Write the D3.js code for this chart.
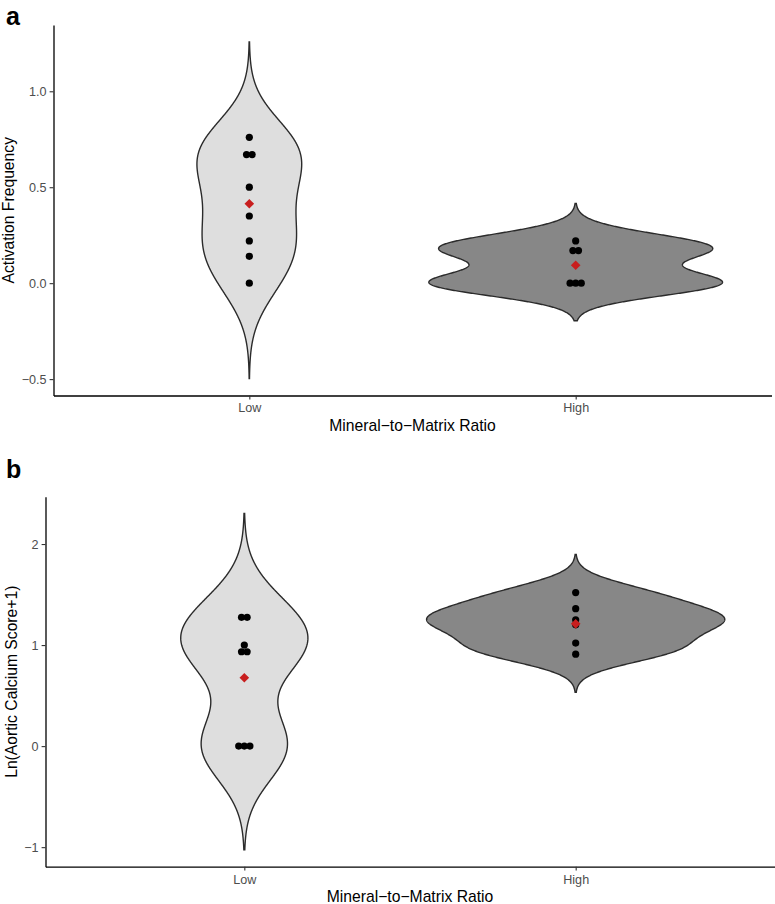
<!DOCTYPE html>
<html><head><meta charset="utf-8">
<script src="https://cdn.jsdelivr.net/npm/d3@7"></script>
<style>
body{margin:0;background:#fff}
svg{display:block;font-family:"Liberation Sans",Arial,sans-serif}
</style>
</head><body>
<svg id="c" width="775" height="904"></svg>
<script>
// ---- data ----
const groups = ["Low", "High"];
const activationLow  = [0.76, 0.67, 0.67, 0.50, 0.35, 0.22, 0.14, 0.00];
const activationHigh = [0.22, 0.17, 0.17, 0.00, 0.00, 0.00];
const calciumLow  = [1.275, 1.275, 1.00, 0.934, 0.934, 0.00, 0.00, 0.00];
const calciumHigh = [1.52, 1.36, 1.25, 1.20, 1.02, 0.91];
const activationTicks = [-0.5, 0, 0.5, 1.0];
const calciumTicks = [-1, 0, 1, 2];
const xTitle = "Mineral\u2212to\u2212Matrix Ratio";
const activationTitle = "Activation Frequency";
const calciumTitle = "Ln(Aortic Calcium Score+1)";
const fills = {Low: "#DEDEDE", High: "#878787"};

// ---- helpers ----
function nrd0(x) {
  const n = x.length;
  const s = [...x].sort(d3.ascending);
  const sd = d3.deviation(s);
  const iqr = (d3.quantileSorted(s, 0.75) - d3.quantileSorted(s, 0.25)) / 1.34;
  let lo = Math.min(sd, iqr);
  if (!(lo > 0)) lo = sd || Math.abs(s[0]) || 1;
  return 0.9 * lo * Math.pow(n, -0.2);
}
function kde(values) {
  const bw = nrd0(values);
  const lo = d3.min(values) - 3 * bw, hi = d3.max(values) + 3 * bw;
  const n = 512, out = [];
  for (let i = 0; i < n; i++) {
    const v = lo + (hi - lo) * i / (n - 1);
    const dens = d3.mean(values, x => Math.exp(-0.5 * ((v - x) / bw) ** 2) / (bw * Math.sqrt(2 * Math.PI)));
    out.push({v, dens});
  }
  return out;
}

const svg = d3.select("#c");

const panels = [
  {letter: "a", letterY: 25, top: 25, bottom: 395.5, left: 53.5, right: 771.5,
   data: {Low: activationLow, High: activationHigh}, ticks: activationTicks,
   fmt: d3.format(".1f"), yTitle: activationTitle, yTitleX: 13.5},
  {letter: "b", letterY: 478, top: 496.7, bottom: 866.7, left: 45.5, right: 774.5,
   data: {Low: calciumLow, High: calciumHigh}, ticks: calciumTicks,
   fmt: d3.format("d"), yTitle: calciumTitle, yTitleX: 16.5}
];

panels.forEach(p => {
  const g = svg.append("g");
  const dens = {};
  groups.forEach(k => dens[k] = kde(p.data[k]));
  const allV = groups.flatMap(k => dens[k].map(d => d.v));
  const [mn, mx] = d3.extent(allV);
  const pad = (mx - mn) * 0.05;
  const y = d3.scaleLinear().domain([mn - pad, mx + pad]).range([p.bottom, p.top]);
  const x = d3.scalePoint().domain(groups).range([p.left, p.right]).padding(0.6);
  const maxD = d3.max(groups, k => d3.max(dens[k], d => d.dens));
  const w = d3.scaleLinear().domain([0, maxD]).range([0, 0.45 * x.step()]);

  // violins
  groups.forEach(k => {
    const cx = x(k);
    const area = d3.area()
      .y(d => y(d.v))
      .x0(d => cx - w(d.dens))
      .x1(d => cx + w(d.dens));
    g.append("path").datum(dens[k]).attr("d", area)
      .attr("fill", fills[k]).attr("stroke", "#2B2B2B").attr("stroke-width", 1.4);
  });

  // dots (stacked centred when values coincide)
  groups.forEach(k => {
    const cx = x(k);
    const bins = d3.groups(p.data[k], v => v);
    bins.forEach(([v, arr]) => {
      arr.forEach((_, i) => {
        g.append("circle")
          .attr("cx", cx + (i - (arr.length - 1) / 2) * 5.6)
          .attr("cy", y(v)).attr("r", 3.6).attr("fill", "#000");
      });
    });
    const m = d3.mean(p.data[k]);
    g.append("path")
      .attr("d", d3.symbol(d3.symbolSquare, 46)())
      .attr("transform", `translate(${cx},${y(m)}) rotate(45)`)
      .attr("fill", "#C81E1E");
  });

  // axes
  const ya = g.append("g").attr("transform", `translate(${p.left},0)`)
    .call(d3.axisLeft(y).tickValues(p.ticks).tickFormat(p.fmt).tickSize(3.9).tickSizeOuter(0).tickPadding(3));
  const xa = g.append("g").attr("transform", `translate(0,${p.bottom})`)
    .call(d3.axisBottom(x).tickSize(3.9).tickSizeOuter(0).tickPadding(4));
  [ya, xa].forEach(a => {
    a.select(".domain").attr("stroke", "#000").attr("stroke-width", 1.3);
    a.selectAll(".tick line").attr("stroke", "#333333").attr("stroke-width", 1.1);
    a.selectAll(".tick text").attr("fill", "#4D4D4D")
      .style("font-size", "12.6px").style("font-family", '"Liberation Sans",Arial,sans-serif');
  });

  // titles
  g.append("text").attr("x", (p.left + p.right) / 2).attr("y", p.bottom + 35.3)
    .attr("text-anchor", "middle").style("font-size", "15.7px").attr("fill", "#000")
    .text(xTitle);
  g.append("text")
    .attr("transform", `translate(${p.yTitleX},${(p.top + p.bottom) / 2}) rotate(-90)`)
    .attr("text-anchor", "middle").style("font-size", "15.7px").attr("fill", "#000")
    .text(p.yTitle);
  g.append("text").attr("x", 6).attr("y", p.letterY)
    .style("font-size", "25px").style("font-weight", "bold").attr("fill", "#000")
    .text(p.letter);
});
</script>
</body></html>
